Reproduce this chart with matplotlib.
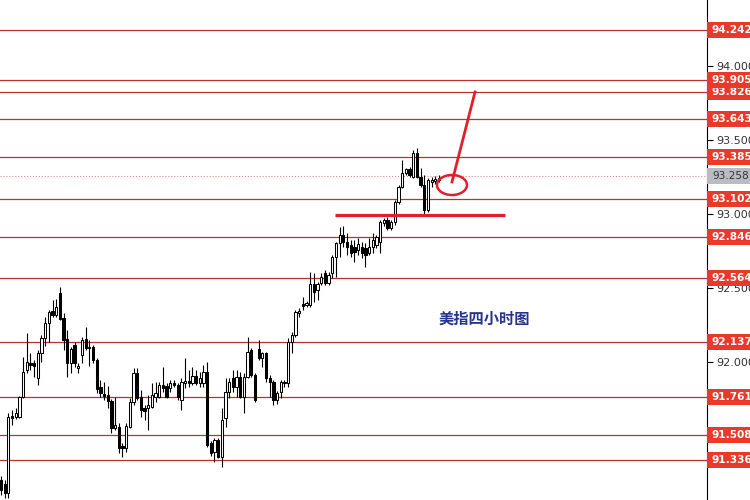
import matplotlib
matplotlib.use("Agg")
import matplotlib.pyplot as plt
import matplotlib.transforms as mtransforms
from matplotlib.patches import Rectangle, Ellipse

# 4h candles
opens = [91.202, 91.175, 91.114, 91.634, 91.627, 91.627, 91.763, 91.945, 91.992, 91.992,
         91.891, 92.060, 92.161, 92.262, 92.344, 92.317, 92.465, 92.296, 92.154, 91.992,
         92.114, 91.958, 92.046, 92.154, 92.094, 92.100, 92.012, 91.830, 91.783, 91.776,
         91.735, 91.553, 91.560, 91.431, 91.418, 91.560, 91.729, 91.924, 91.763, 91.688,
         91.688, 91.695, 91.763, 91.763, 91.844, 91.837, 91.823, 91.857, 91.844, 91.742,
         91.857, 91.870, 91.857, 91.904, 91.857, 91.857, 91.931, 91.452, 91.391, 91.472,
         91.357, 91.621, 91.796, 91.891, 91.830, 91.897, 91.763, 91.897, 92.080, 91.911,
         92.087, 92.026, 92.060, 91.891, 91.864, 91.742, 91.796, 91.857, 91.857, 92.134,
         92.181, 92.330, 92.391, 92.384, 92.384, 92.526, 92.485, 92.533, 92.600, 92.533,
         92.600, 92.708, 92.803, 92.857, 92.810, 92.789, 92.776, 92.756, 92.776, 92.769,
         92.735, 92.776, 92.789, 92.810, 92.938, 92.958, 92.904, 92.945, 93.080, 93.181,
         93.276, 93.303, 93.249, 93.411, 93.249, 93.195, 93.026, 93.215, 93.222, 93.229]
highs = [91.229, 91.202, 91.654, 91.675, 91.688, 91.769, 92.033, 92.195, 92.060, 92.012,
         92.080, 92.181, 92.303, 92.350, 92.418, 92.425, 92.506, 92.330, 92.215, 92.100,
         92.134, 91.992, 92.168, 92.235, 92.148, 92.114, 92.026, 91.877, 91.864, 91.837,
         91.749, 91.763, 91.587, 91.452, 91.587, 91.756, 91.958, 91.958, 91.810, 91.708,
         91.776, 91.857, 91.864, 91.864, 91.965, 91.857, 91.877, 91.877, 91.857, 91.891,
         92.026, 91.945, 91.965, 91.945, 91.931, 91.979, 91.999, 91.465, 91.485, 91.485,
         91.688, 91.891, 91.891, 91.945, 91.945, 91.931, 91.924, 92.168, 92.094, 91.924,
         92.148, 92.067, 92.067, 91.911, 91.877, 91.803, 91.877, 91.877, 92.161, 92.202,
         92.350, 92.364, 92.438, 92.411, 92.607, 92.600, 92.539, 92.600, 92.621, 92.607,
         92.722, 92.810, 92.911, 92.918, 92.871, 92.823, 92.823, 92.837, 92.810, 92.803,
         92.837, 92.871, 92.857, 92.958, 92.972, 92.979, 92.958, 93.094, 93.195, 93.364,
         93.310, 93.317, 93.431, 93.445, 93.310, 93.263, 93.242, 93.249, 93.256, 93.263]
lows = [91.100, 91.080, 91.080, 91.573, 91.614, 91.621, 91.756, 91.924, 91.945, 91.897,
        91.844, 91.999, 92.107, 92.134, 92.303, 92.303, 92.283, 92.080, 91.897, 91.924,
        91.965, 91.924, 91.992, 92.080, 91.972, 91.992, 91.790, 91.763, 91.742, 91.688,
        91.519, 91.540, 91.384, 91.357, 91.391, 91.553, 91.708, 91.742, 91.627, 91.607,
        91.540, 91.688, 91.729, 91.756, 91.796, 91.756, 91.796, 91.830, 91.742, 91.675,
        91.823, 91.830, 91.844, 91.844, 91.830, 91.830, 91.425, 91.364, 91.323, 91.350,
        91.289, 91.560, 91.756, 91.796, 91.763, 91.756, 91.654, 91.891, 91.897, 91.729,
        92.012, 91.965, 91.864, 91.763, 91.708, 91.715, 91.756, 91.830, 91.830, 92.060,
        92.168, 92.303, 92.350, 92.371, 92.371, 92.404, 92.418, 92.519, 92.519, 92.519,
        92.567, 92.573, 92.708, 92.776, 92.722, 92.708, 92.675, 92.722, 92.702, 92.641,
        92.722, 92.735, 92.769, 92.735, 92.918, 92.891, 92.891, 92.925, 93.067, 93.175,
        93.263, 93.249, 93.242, 93.242, 93.181, 92.992, 93.012, 93.181, 93.202, 93.215]
closes = [91.134, 91.114, 91.627, 91.621, 91.654, 91.763, 91.931, 91.999, 91.979, 91.972,
          92.060, 92.161, 92.262, 92.337, 92.317, 92.371, 92.289, 92.148, 91.992, 92.087,
          91.992, 91.972, 92.148, 92.094, 92.100, 92.012, 91.816, 91.790, 91.769, 91.735,
          91.553, 91.573, 91.418, 91.418, 91.567, 91.729, 91.924, 91.756, 91.675, 91.668,
          91.708, 91.776, 91.790, 91.844, 91.823, 91.763, 91.857, 91.844, 91.763, 91.864,
          91.870, 91.857, 91.904, 91.857, 91.891, 91.931, 91.438, 91.384, 91.472, 91.357,
          91.607, 91.796, 91.864, 91.830, 91.897, 91.763, 91.897, 92.067, 91.911, 91.742,
          92.026, 92.060, 91.891, 91.864, 91.742, 91.790, 91.864, 91.864, 92.134, 92.181,
          92.337, 92.344, 92.377, 92.398, 92.526, 92.472, 92.526, 92.573, 92.533, 92.587,
          92.708, 92.803, 92.857, 92.810, 92.776, 92.735, 92.742, 92.796, 92.735, 92.722,
          92.776, 92.823, 92.844, 92.945, 92.958, 92.904, 92.945, 93.080, 93.181, 93.276,
          93.303, 93.263, 93.411, 93.249, 93.195, 93.026, 93.229, 93.229, 93.236, 93.242]

levels = [94.242, 93.905, 93.826, 93.643, 93.385, 93.102, 92.846, 92.564, 92.137, 91.761, 91.508, 91.336]
last_price = 93.258
support = 92.99
yticks = [91.5, 92.0, 92.5, 93.0, 93.5, 94.0]
title_text = "美指四小时图"

fig = plt.figure(figsize=(7.5, 5), dpi=100)
ax = fig.add_axes([0, 0, 707 / 750, 1])
ax.set_xlim(-0.27, 191.8)
ax.set_ylim(91.066, 94.445)

for s in ["left", "top", "bottom"]:
    ax.spines[s].set_visible(False)
ax.spines["right"].set_color("black")
ax.spines["right"].set_linewidth(0.8)

# level lines
for lv in levels:
    ax.axhline(lv, color="#b83232", lw=0.9, zorder=1)
ax.axhline(last_price, color="#e08a8a", lw=0.8, ls=":", zorder=1)

# candles
xs = list(range(len(opens)))
ax.vlines(xs, lows, highs, color="black", lw=0.8, zorder=2)
for x, o, c in zip(xs, opens, closes):
    bottom = min(o, c)
    h = max(abs(c - o), 0.005)
    fc = "white" if c >= o else "black"
    ax.bar(x, h, bottom=bottom, width=0.62, color=fc, edgecolor="black", lw=0.75, zorder=3)

# y axis on the right
ax.yaxis.tick_right()
ax.set_yticks(yticks)
ax.set_yticklabels([f"{t:.3f}" for t in yticks])
ax.tick_params(axis="y", direction="out", length=4, width=0.8, labelsize=8,
               labelcolor="#333333", pad=3)
ax.set_xticks([])

# price tags on the right
tr = mtransforms.blended_transform_factory(ax.transAxes, ax.transData)
tag_h = 0.108
tags = sorted(levels + [last_price])
for i, lv in enumerate(tags):
    grey = lv == last_price
    fc = "#b9bcc3" if grey else "#e8392b"
    tc = "#333333" if grey else "white"
    ax.add_patch(Rectangle((1.0, lv - tag_h / 2), 0.07, tag_h, transform=tr,
                           facecolor=fc, edgecolor="none", clip_on=False, zorder=10 + i))
    ax.text(1.0 + 5 / 707, lv, f"{lv:.3f}", transform=tr, ha="left", va="center",
            fontsize=7.6, fontweight="normal" if grey else "bold", color=tc,
            clip_on=False, zorder=10 + i)

# hand drawn marks
ax.plot([0.4738, 0.7143], [support, support], transform=tr, color="#e0202a",
        lw=2.3, solid_capstyle="butt", zorder=4)
ax.plot([0.6719, 0.6393], [0.816, 0.636], transform=ax.transAxes, color="#e0202a",
        lw=2.0, zorder=4)
ax.add_patch(Ellipse((0.6393, 0.630), 0.0424, 0.04, transform=ax.transAxes,
                     facecolor="none", edgecolor="#e0202a", lw=1.8, zorder=4))

ax.text(0.6846, 0.362, title_text, transform=ax.transAxes, ha="center", va="center",
        fontsize=11, fontweight="bold", color="#25348c",
        family=["Noto Sans CJK SC", "DejaVu Sans"])

fig.savefig("out.png", dpi=100)
